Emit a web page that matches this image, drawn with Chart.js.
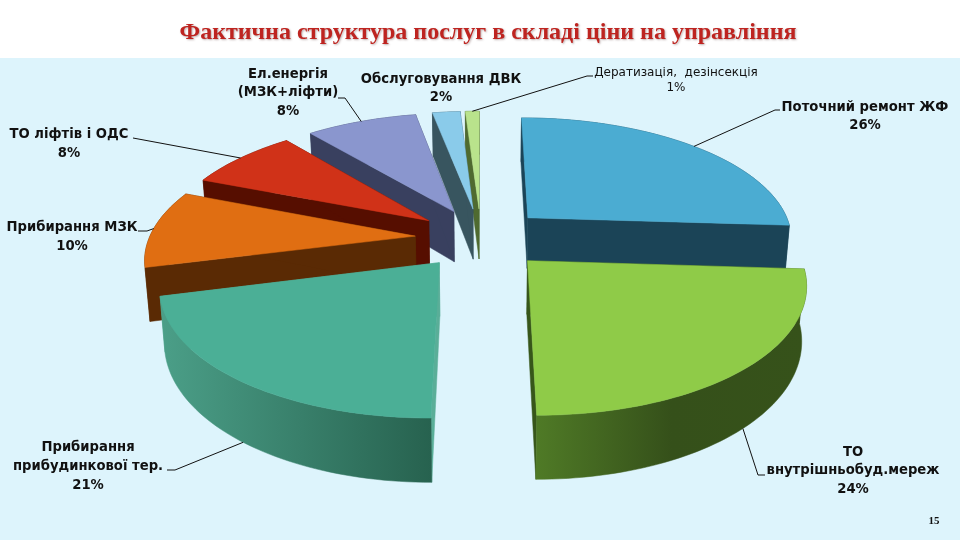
<!DOCTYPE html>
<html>
<head>
<meta charset="utf-8">
<style>
  html, body { margin: 0; padding: 0; background: #fff; }
  #wrap { width: 960px; height: 540px; position: relative; }
</style>
<script src="https://cdn.jsdelivr.net/npm/chart.js@4/dist/chart.umd.js"></script>
</head>
<body>
<div id="wrap"><canvas id="chart"></canvas></div>
<script>
const categories = ['Поточний ремонт ЖФ', 'ТО внутрішньобуд.мереж', 'Прибирання прибудинкової тер.',
  'Прибирання МЗК', 'ТО ліфтів і ОДС', 'Ел.енергія (МЗК+ліфти)', 'Обслуговування ДВК', 'Дератизація, дезінсекція'];
const shares = [26, 24, 21, 10, 8, 8, 2, 1];
const labelLines = [
  ['Поточний ремонт ЖФ'],
  ['ТО', 'внутрішньобуд.мереж'],
  ['Прибирання', 'прибудинкової тер.'],
  ['Прибирання МЗК'],
  ['ТО ліфтів і ОДС'],
  ['Ел.енергія', '(МЗК+ліфти)'],
  ['Обслуговування ДВК'],
  ['Дератизація,  дезінсекція'],
];
const titleText = 'Фактична структура послуг в складі ціни на управління';
const pageNumber = '15';

// colours: top face, radial walls, rim
const topColors = ['#4BACD2', '#8FCB48', '#4BAF96', '#E06E12', '#D03218', '#8A96CE', '#8ACBEA', '#B9E38C'];
const sideColors = ['#1B4457', '#37561A', '#5AAE98', '#5A2A04', '#560E00', '#39405F', '#38555F', '#4F6A30'];
const rimColors = [
  ['#1B4457', '#1B4457'], ['#4F7A26', '#35501A', '#36521A'], ['#4B9F88', '#27624F'], ['#5A2A04', '#5A2A04'],
  ['#560E00', '#560E00'], ['#39405F', '#39405F'], ['#38555F', '#38555F'], ['#4F6A30', '#4F6A30'],
];

// label placement: centre x, first line y, line step
const labelPlace = [
  [865, 107.5, 18.5], [853, 452.5, 18.5], [88, 447.5, 19], [72, 227.5, 19],
  [69, 134.5, 19], [288, 74.5, 18.5], [441, 79.5, 18.5], [676, 73, 15],
];
// leader lines: elbow points from the label, and whether they end on the lower rim
const leaders = [
  { pts: [[780, 110], [775, 110]], low: false },
  { pts: [[765, 475], [758, 475]], low: true },
  { pts: [[167, 470], [175, 470]], low: true },
  { pts: [[138, 231], [147, 231]], low: false },
  { pts: [[133, 138]], low: false },
  { pts: [[338, 98], [345, 98]], low: false },
  null,
  { pts: [[593, 76], [587, 76]], low: false },
];

const YSCALE = 0.458, PERSP = 0.0006, DEPTH = 52, SHRINK = 0.985;

// pie plane to screen, v grows towards the viewer
function project(cx, cy, u, v, h) {
  const w = 1 / (1 - PERSP * v);
  const sx = u * w * (h ? SHRINK : 1);
  return [cx + sx, cy + v * YSCALE * w + h * w];
}

function sliceGeom(el) {
  const { x, y, startAngle, endAngle, outerRadius } = el.getProps(['x', 'y', 'startAngle', 'endAngle', 'outerRadius'], true);
  const mid = (startAngle + endAngle) / 2;
  const off = el.options.offset;
  const ox = Math.cos(mid) * off, oy = Math.sin(mid) * off;
  const at = (a, r, h) => project(x, y, ox + Math.cos(a) * r, oy + Math.sin(a) * r, h);
  const arc = (h) => {
    const out = [];
    const n = Math.max(4, Math.ceil((endAngle - startAngle) * 40));
    for (let i = 0; i <= n; i++) out.push(at(startAngle + (endAngle - startAngle) * i / n, outerRadius, h));
    return out;
  };
  return { startAngle, endAngle, mid, outerRadius, oy, at, arc };
}

function fillPoly(ctx, pts, fill) {
  ctx.beginPath();
  pts.forEach((p, i) => (i ? ctx.lineTo(p[0], p[1]) : ctx.moveTo(p[0], p[1])));
  ctx.closePath();
  ctx.fillStyle = fill;
  ctx.strokeStyle = fill;
  ctx.lineWidth = 0.5;
  ctx.fill();
  ctx.stroke();
}

const pie3d = {
  id: 'pie3d',
  beforeDraw(chart) {
    const ctx = chart.ctx;
    ctx.save();
    ctx.fillStyle = '#fff';
    ctx.fillRect(0, 0, 960, 540);
    ctx.fillStyle = '#DDF4FC';
    ctx.fillRect(0, 58, 960, 482);
    ctx.restore();
  },
  beforeDatasetsDraw(chart) {
    const ctx = chart.ctx;
    const arcs = chart.getDatasetMeta(0).data.map((el, i) => ({ i, g: sliceGeom(el) }));
    arcs.sort((a, b) => a.g.oy - b.g.oy); // back slices first
    ctx.save();
    arcs.forEach(({ i, g }) => {
      const rim = rimColors[i];
      const top = g.arc(0), low = g.arc(DEPTH);
      const apexT = g.at(g.mid, 0, 0), apexL = g.at(g.mid, 0, DEPTH);
      fillPoly(ctx, [apexT, top[0], low[0], apexL], sideColors[i]);
      fillPoly(ctx, [apexT, top[top.length - 1], low[low.length - 1], apexL], sideColors[i]);
      const xs = top.map((p) => p[0]);
      const grad = ctx.createLinearGradient(Math.min(...xs), 0, Math.max(...xs), 0);
      rim.forEach((c, k) => grad.addColorStop(k / (rim.length - 1), c));
      fillPoly(ctx, top.concat(low.slice().reverse()), grad);
      fillPoly(ctx, [apexT].concat(top), topColors[i]);
    });
    ctx.restore();
    return false;
  },
  afterDraw(chart) {
    const ctx = chart.ctx;
    ctx.save();
    // leader lines run to the middle of each slice's rim
    ctx.strokeStyle = '#111';
    ctx.lineWidth = 1;
    chart.getDatasetMeta(0).data.forEach((el, i) => {
      if (!leaders[i]) return;
      const g = sliceGeom(el);
      const end = g.at(g.mid, g.outerRadius, leaders[i].low ? DEPTH : 0);
      ctx.beginPath();
      leaders[i].pts.forEach((p, k) => (k ? ctx.lineTo(p[0], p[1]) : ctx.moveTo(p[0], p[1])));
      ctx.lineTo(end[0], end[1]);
      ctx.stroke();
    });
    // labels
    ctx.textAlign = 'center';
    ctx.textBaseline = 'middle';
    ctx.fillStyle = '#111';
    shares.forEach((v, i) => {
      const [x, y, step] = labelPlace[i];
      ctx.font = i === 7 ? '12px "DejaVu Sans"' : 'bold 13.2px "DejaVu Sans"';
      labelLines[i].concat(v + '%').forEach((line, k) => ctx.fillText(line, x, y + k * step));
    });
    ctx.font = 'bold 11px "Liberation Serif"';
    ctx.fillText(pageNumber, 934, 521);
    // title
    ctx.font = 'bold 24px "Liberation Serif"';
    ctx.fillStyle = '#BE2420';
    ctx.shadowColor = 'rgba(110,80,80,0.45)';
    ctx.shadowOffsetX = 1;
    ctx.shadowOffsetY = 1;
    ctx.shadowBlur = 2;
    ctx.fillText(titleText, 488, 33);
    ctx.restore();
  },
};

new Chart(document.getElementById('chart'), {
  type: 'pie',
  data: {
    labels: categories,
    datasets: [{
      data: shares,
      backgroundColor: topColors,
      borderWidth: 0,
      offset: 66,
    }],
  },
  options: {
    responsive: true,
    maintainAspectRatio: false,
    animation: false,
    radius: 266,
    layout: { padding: { left: 2, top: 0, bottom: 64 } },
    plugins: {
      legend: { display: false },
      tooltip: { enabled: false },
    },
  },
  plugins: [pie3d],
});
</script>
</body>
</html>
